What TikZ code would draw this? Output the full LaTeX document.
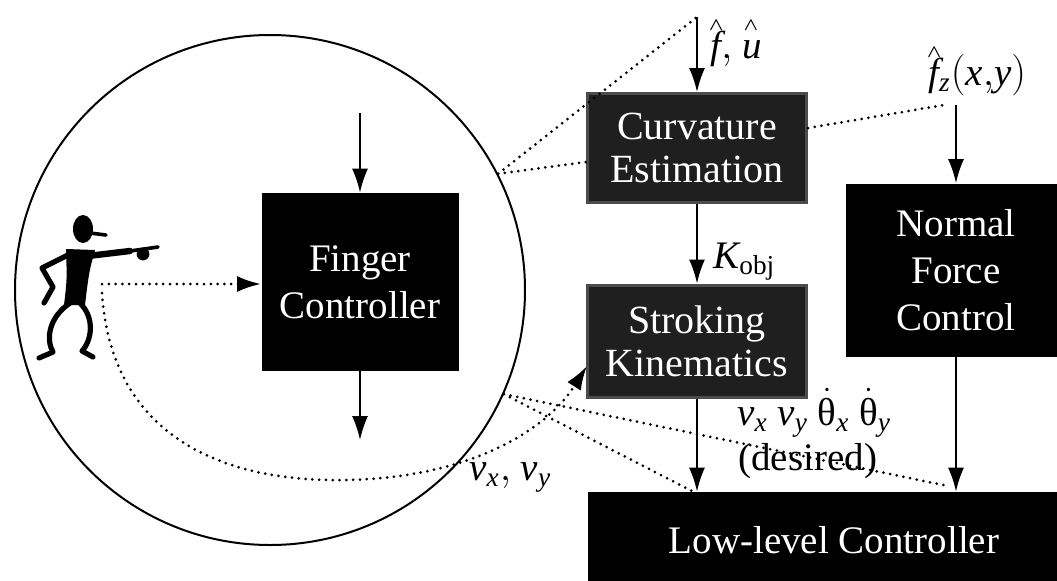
\documentclass[tikz,border=0pt]{standalone}
\usepackage{amsmath}
\usepackage{fontspec}
\setmainfont{Liberation Serif}
\usetikzlibrary{arrows.meta}
% estimate hat: letter, then how far the hat sits in from its right edge
\newcommand\est[2]{\textit{#1}\llap{\raisebox{14pt}{\fontsize{9}{9}\selectfont$\boldsymbol{\wedge}$}\kern#2}}

\begin{document}
\begin{tikzpicture}[x=0.5pt, y=-0.5pt,
    blk/.style={fill=black, text=white, inner sep=0pt, align=center,
      font=\fontsize{19.5}{23.5}\selectfont},
    grey/.style={blk, fill=black!88, draw=black!70, line width=1.5pt,
      font=\fontsize{20}{21.5}\selectfont},
    lbl/.style={inner sep=0pt, anchor=base west, font=\fontsize{19.5}{23.5}\selectfont},
    flow/.style={-{Latex[length=12pt,width=8pt]}, line width=0.9pt},
    dotline/.style={line width=1.5pt, dash pattern=on 0pt off 3.4pt, line cap=round},
    dotflow/.style={dotline, -{Latex[length=12pt,width=8pt]}}]
        \useasboundingbox (0,0) rectangle (1057,580);
        % blown-up view of the finger loop
        \node[draw, circle, line width=1pt, minimum size=255pt, inner sep=0pt] (zoom) at (270,290) {};
        % blocks
        \node[blk, minimum width=98.5pt, minimum height=89pt] (fing) at (360,282) {Finger\\Controller};
        \node[grey, minimum width=109.5pt, minimum height=54.5pt] (cur) at (697,148) {Curvature\\Estimation};
        \node[grey, minimum width=109.5pt, minimum height=56pt] (strk) at (697,341) {Stroking\\Kinematics};
        \node[blk, minimum width=110pt, minimum height=86.5pt] (norm) at (956,270) {Normal\\Force\\Control};
        \node[blk, minimum width=246pt, minimum height=48pt] (low) at (834,540) {Low-level Controller};
        % free ends of the signal arrows
        \coordinate (fin) at (697,17);
        \coordinate (nin) at (956,105);
        \coordinate (fgin) at (360,113);
        \coordinate (fgout) at (360,440);
        \coordinate (hand) at (102,284);
        \coordinate (hip) at (102,293);
        \coordinate (skin) at (587,366);
        % signal flow
        \draw[flow] (fin) -- (cur);
        \draw[flow] (cur) -- (strk);
        \draw[flow] (strk) -- (strk |- low.north);
        \draw[flow] (nin) -- (norm);
        \draw[flow] (norm) -- (norm |- low.north);
        \draw[flow] (fgin) -- (fing);
        \draw[flow] (fing) -- (fgout);
        % operator commands
        \draw[dotflow] (hand) -- (hand -| fing.west);
        \draw[dotflow] (hip) .. controls (110,420) and (200,478) .. (330,480)
          .. controls (450,482) and (540,440) .. (skin);
        % zoom lines
        \draw[dotline] (zoom.27) -- (fin);
        \draw[dotline] (zoom.27) -- ([yshift=-7pt]cur.west);
        \draw[dotline] ([yshift=10pt]cur.east) -- ([xshift=-6pt]nin);
        \draw[dotline] (zoom.-24) -- ([xshift=-2pt]strk.south |- low.north);
        \draw[dotline] (zoom.-24) -- ([xshift=-5pt,yshift=3pt]norm.south |- low.north);
        % signal labels
        \node[lbl] (fu) at (710,58) {$\est{f}{-1pt}{,}\ \est{u}{1.8pt}$};
        \node[lbl] (fz) at (928,85) {$\est{f}{-1pt}_{\textit{z}}(\textit{x}{,}\textit{y})$};
        \node[lbl] (kobj) at (713,268) {$\textit{K}_{\text{obj}}$};
        \node[lbl] (vel) at (737,425) {$\textit{v}_{\textit{x}}\ \textit{v}_{\textit{y}}\ \dot{\text{θ}}_{\textit{x}}\ \dot{\text{θ}}_{\textit{y}}$};
        \node[lbl] (des) at (738,470) {(desired)};
        \node[lbl] (vxy) at (469,480) {$\textit{v}_{\textit{x}}{,}\ \textit{v}_{\textit{y}}$};
        % pointing figure
        \fill (83,229) ellipse (5pt and 7pt);
        \draw[line width=1.8pt, line cap=round] (90,233) -- (106,235);
        \fill (66,249) -- (95,250) .. controls (89,272) .. (85,305) -- (64,305)
          .. controls (67,280) .. (66,249) -- cycle;
        \draw[line width=3.2pt, line cap=round] (88,256) -- (130,251);
        \draw[line width=1.8pt, line cap=round] (130,251) -- (158,247);
        \fill (143,254) circle (3.2pt);
        \draw[line width=2.6pt, line cap=round, line join=round] (70,254) -- (42,268) -- (53,287) -- (44,303);
        \draw[line width=2.6pt, line cap=round, line join=round] (70,303)
          .. controls (48,318) and (46,340) .. (53,352) -- (39,358);
        \draw[line width=2.6pt, line cap=round, line join=round] (80,303)
          .. controls (95,318) and (92,340) .. (82,351) -- (93,357);
      \end{tikzpicture}
\end{document}
